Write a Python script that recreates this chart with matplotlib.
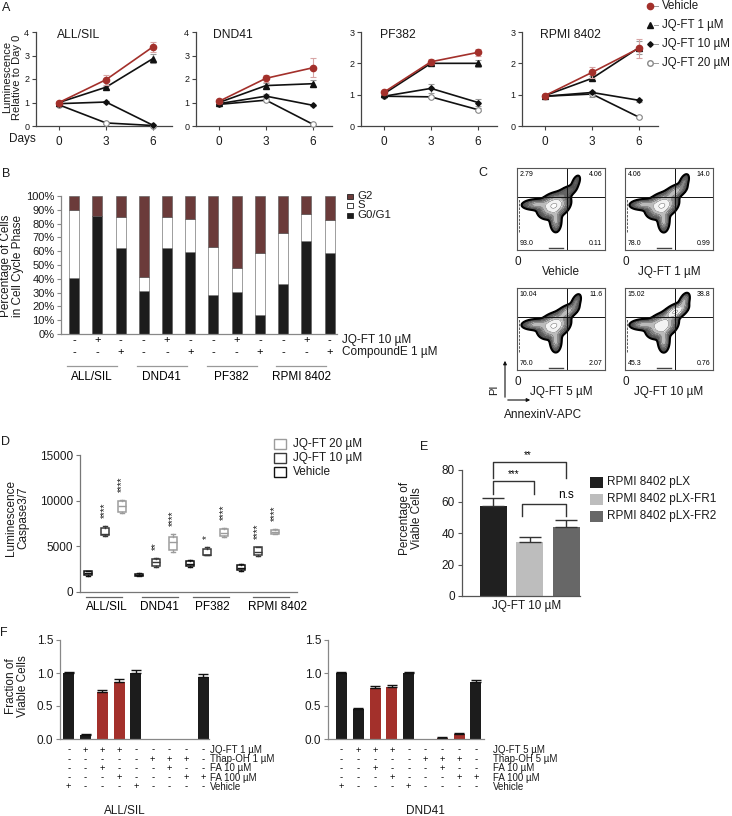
import numpy as np
import matplotlib
matplotlib.use('Agg')
import matplotlib.pyplot as plt
from matplotlib.transforms import blended_transform_factory as blend
from matplotlib.lines import Line2D
from matplotlib.patches import Rectangle, FancyArrowPatch
from matplotlib.colors import LinearSegmentedColormap

plt.rcParams['font.family'] = ['Liberation Sans', 'DejaVu Sans']
plt.rcParams['font.size'] = 8.5

# ---------------- DATA ----------------
# Panel A
days = [0, 3, 6]
a_lines = ['ALL/SIL', 'DND41', 'PF382', 'RPMI 8402']
a_series = ['Vehicle', 'JQ-FT 1 µM', 'JQ-FT 10 µM', 'JQ-FT 20 µM']
a_ymax = [4, 4, 3, 3]
a_vehicle = [[1.0, 1.97, 3.37], [1.05, 2.03, 2.48], [1.08, 2.05, 2.35], [0.97, 1.71, 2.48]]
a_vehicle_err = [[0.05, 0.22, 0.2], [0.05, 0.15, 0.4], [0.05, 0.08, 0.1], [0.05, 0.18, 0.3]]
a_jq1 = [[1.0, 1.65, 2.87], [1.0, 1.72, 1.8], [1.03, 2.0, 2.0], [0.97, 1.52, 2.5]]
a_jq1_err = [[0.03, 0.06, 0.2], [0.03, 0.12, 0.15], [0.03, 0.05, 0.12], [0.03, 0.08, 0.2]]
a_jq10 = [[0.95, 1.02, 0.03], [0.95, 1.27, 0.88], [0.95, 1.2, 0.75], [0.95, 1.07, 0.82]]
a_jq10_err = [[0.03, 0.04, 0.02], [0.03, 0.08, 0.03], [0.03, 0.15, 0.12], [0.03, 0.05, 0.04]]
a_jq20 = [[0.9, 0.13, 0.02], [0.92, 1.1, 0.07], [0.95, 0.93, 0.52], [0.95, 1.02, 0.28]]
a_jq20_err = [[0.02, 0.03, 0.01], [0.02, 0.05, 0.02], [0.02, 0.03, 0.05], [0.02, 0.08, 0.03]]

# Panel B
b_groups = ['ALL/SIL', 'DND41', 'PF382', 'RPMI 8402']
b_g0g1 = [40.7, 85.3, 62.0, 31.3, 62.0, 59.3, 28.2, 30.6, 13.5, 36.0, 67.5, 58.8]
b_s = [49.3, 0.0, 23.0, 10.1, 23.0, 23.7, 34.5, 16.9, 45.3, 37.3, 19.2, 23.8]
b_g2 = [10.0, 14.7, 15.0, 58.6, 15.0, 17.0, 37.3, 52.5, 41.2, 26.7, 13.3, 17.4]
b_jq = ['-', '+', '-'] * 4
b_ce = ['-', '-', '+'] * 4
b_phase = ['G2', 'S', 'G0/G1']

# Panel C
c_titles = ['Vehicle', 'JQ-FT 1 µM', 'JQ-FT 5 µM', 'JQ-FT 10 µM']
c_quadrants = [['2.79', '4.06', '93.0', '0.11'],
               ['4.06', '14.0', '78.0', '0.99'],
               ['10.04', '11.6', '76.0', '2.07'],
               ['15.02', '38.8', '45.3', '0.76']]   # UL, UR, LL, LR
c_tail = [0.12, 0.35, 0.35, 0.85]

# Panel D
d_groups = ['ALL/SIL', 'DND41', 'PF382', 'RPMI 8402']
d_conditions = ['Vehicle', 'JQ-FT 10 µM', 'JQ-FT 20 µM']
d_med = [[2080, 6400, 9400], [1900, 3250, 5500], [3100, 4100, 6500], [2650, 4400, 6600]]
d_q1 = [[1820, 6200, 8800], [1750, 2900, 4600], [2800, 4000, 6100], [2400, 4000, 6400]]
d_q3 = [[2300, 7000, 10000], [2000, 3600, 6000], [3400, 4750, 6900], [3000, 4900, 6800]]
d_lo = [[1780, 6100, 8700], [1700, 2700, 4400], [2750, 4000, 6000], [2300, 3950, 6300]]
d_hi = [[2350, 7200, 10050], [2050, 3700, 6300], [3500, 4950, 7000], [3050, 4950, 6900]]
d_stars = [['', '****', '****'], ['', '**', '****'], ['', '*', '****'], ['', '****', '****']]

# Panel E
e_labels = ['RPMI 8402 pLX', 'RPMI 8402 pLX-FR1', 'RPMI 8402 pLX-FR2']
e_values = [57, 34, 44]
e_err = [5.5, 3.5, 4.0]

# Panel F
f_left_values = [1.0, 0.06, 0.71, 0.86, 1.0, 0.004, 0.0, 0.004, 0.94]
f_left_err = [0.02, 0.02, 0.03, 0.05, 0.04, 0.0, 0.0, 0.0, 0.05]
f_right_values = [1.0, 0.45, 0.77, 0.79, 1.0, 0.0, 0.02, 0.08, 0.86]
f_right_err = [0.02, 0.015, 0.04, 0.03, 0.015, 0.0, 0.005, 0.01, 0.03]
f_left_rows = ['JQ-FT 1 µM', 'Thap-OH 1 µM', 'FA 10 µM', 'FA 100 µM', 'Vehicle']
f_right_rows = ['JQ-FT 5 µM', 'Thap-OH 5 µM', 'FA 10 µM', 'FA 100 µM', 'Vehicle']
f_signs = [['-', '+', '+', '+', '-', '-', '-', '-', '-'],
           ['-', '-', '-', '-', '-', '+', '+', '+', '-'],
           ['-', '-', '+', '-', '-', '-', '+', '-', '-'],
           ['-', '-', '-', '+', '-', '-', '-', '+', '+'],
           ['+', '-', '-', '-', '+', '-', '-', '-', '-']]
f_fa_rescue = [False, False, True, True, False, False, True, True, False]

# ---------------- LAYOUT HELPERS ----------------
W, H = 732, 816
fig = plt.figure(figsize=(W / 100, H / 100), dpi=100)


def rect(x, y, w, h):
    return [x / W, 1 - (y + h) / H, w / W, h / H]


def fx(x):
    return x / W


def fy(y):
    return 1 - y / H


def ftext(x, y, s, **kw):
    kw.setdefault('ha', 'center')
    kw.setdefault('va', 'center')
    kw.setdefault('fontsize', 8.5)
    kw.setdefault('color', '#1a1a1a')
    return fig.text(fx(x), fy(y), s, **kw)


def fsquare(x, yc, w, h, fc, ec='none', lw=0.8):
    fig.add_artist(Rectangle((fx(x), fy(yc + h / 2)), w / W, h / H, transform=fig.transFigure,
                             facecolor=fc, edgecolor=ec, linewidth=lw))


def fline(xs, ys, **kw):
    fig.add_artist(Line2D([fx(x) for x in xs], [fy(y) for y in ys], transform=fig.transFigure, **kw))


def style(ax, color='#444444'):
    for s in ['top', 'right']:
        ax.spines[s].set_visible(False)
    for s in ['left', 'bottom']:
        ax.spines[s].set_color(color)
        ax.spines[s].set_linewidth(0.9)
    ax.tick_params(color=color, labelcolor='#1a1a1a', length=3, width=0.8)


RED = '#a3302b'
BROWN = '#6b3b3a'
BLACK = '#1c1c1c'

# ---------------- PANEL A ----------------
ftext(6, 8, 'A', fontsize=9)
ftext(12, 77, 'Luminescence\nRelative to Day 0', rotation=90, linespacing=1.0, fontsize=8)
ftext(22, 139, 'Days')
a_left = [35.5, 195.5, 360.5, 521.5]
a_title_x = [57, 213, 380, 540]
series = [
    (a_jq20, a_jq20_err, dict(color='#111111', marker='o', ms=4, mfc='white', mec='#888888', mew=0.8), '#9a9a9a'),
    (a_jq10, a_jq10_err, dict(color='#111111', marker='D', ms=2.8, mfc='#111111', mec='#111111'), '#9a9a9a'),
    (a_jq1, a_jq1_err, dict(color='#111111', marker='^', ms=4, mfc='#111111', mec='#111111'), '#9a9a9a'),
    (a_vehicle, a_vehicle_err, dict(color=RED, marker='o', ms=4.5, mfc=RED, mec=RED), '#d8a5a5'),
]
for k in range(4):
    ax = fig.add_axes(rect(a_left[k], 32, 136.3, 94))
    for z, (vals, errs, kw, ec) in enumerate(series):
        ax.errorbar(days, vals[k], yerr=errs[k], ecolor=ec, elinewidth=0.8, capsize=2.3, capthick=0.8,
                    lw=1.2, clip_on=False, zorder=3 + z, **kw)
    ax.set_xlim(-1.5, 7.2)
    ax.set_ylim(0, a_ymax[k])
    ax.set_xticks(days)
    ax.set_yticks(range(0, a_ymax[k] + 1))
    style(ax)
    ax.tick_params(axis='y', labelsize=6.5, pad=1.5)
    ax.tick_params(axis='x', labelsize=8.5, pad=4)
    ftext(a_title_x[k], 35, a_lines[k], ha='left', fontsize=8.7)

# legend A
leg_y = [6, 25, 44, 63]
for (vals, errs, kw, ec), y in zip(series[::-1], leg_y):
    fline([654, 658], [y, y], color='#999999', lw=0.7)
    fig.add_artist(Line2D([fx(650)], [fy(y)], transform=fig.transFigure, linestyle='none',
                          marker=kw['marker'], markersize=kw['ms'], markerfacecolor=kw['mfc'],
                          markeredgecolor=kw['mec']))
for name, y in zip(a_series, leg_y):
    ftext(662, y, name, ha='left', fontsize=8.3)

# ---------------- PANEL B ----------------
ftext(6, 174, 'B', fontsize=9)
ftext(12, 266, 'Percentage of Cells\nin Cell Cycle Phase', rotation=90, linespacing=1.0)
axb = fig.add_axes(rect(61, 196, 275.7, 138))
xb = np.arange(len(b_g0g1))
bottom_s = np.array(b_g0g1)
bottom_g2 = bottom_s + np.array(b_s)
axb.bar(xb, b_g0g1, width=0.43, color=BLACK, edgecolor='#555555', lw=0.4)
axb.bar(xb, b_s, bottom=bottom_s, width=0.43, color='white', edgecolor='#555555', lw=0.4)
axb.bar(xb, b_g2, bottom=bottom_g2, width=0.43, color=BROWN, edgecolor='#555555', lw=0.4)
axb.set_xlim(-0.56, 11.3)
axb.set_ylim(0, 100)
axb.set_yticks(range(0, 101, 10))
axb.set_yticklabels([f'{v}%' for v in range(0, 101, 10)])
axb.set_xticks([])
style(axb, '#888888')
axb.tick_params(axis='y', labelsize=8, pad=1.5)
tb = blend(axb.transData, fig.transFigure)
for i in xb:
    axb.text(i, fy(340), b_jq[i], transform=tb, ha='center', va='center', fontsize=8)
    axb.text(i, fy(352), b_ce[i], transform=tb, ha='center', va='center', fontsize=8)
ftext(342, 340, 'JQ-FT 10 µM', ha='left')
ftext(342, 352, 'CompoundE 1 µM', ha='left')
for g, name in enumerate(b_groups):
    axb.plot([3 * g - 0.29, 3 * g + 1.86], [fy(366)] * 2, transform=tb, color='#999999', lw=0.9, clip_on=False)
    axb.text(3 * g + 0.78, fy(377), name, transform=tb, ha='center', va='center', fontsize=8.5)
b_colors = [BROWN, 'white', BLACK]
for name, col, y in zip(b_phase, b_colors, [196, 205.5, 215]):
    fsquare(347, y, 6, 5, col, ec='#222222', lw=0.6)
    ftext(357, y, name, ha='left', fontsize=8.2)

# ---------------- PANEL C ----------------
ftext(483, 173, 'C', fontsize=9)
gx, gy = np.meshgrid(np.linspace(0, 1, 260), np.linspace(0, 1, 240))


def blob(cx, cy, sx, sy, rho, amp):
    dx = (gx - cx) / sx
    dy = (gy - cy) / sy
    return amp * np.exp(-(dx * dx - 2 * rho * dx * dy + dy * dy) / (2 * (1 - rho * rho)))


flow_cmap = LinearSegmentedColormap.from_list('flow', ['#404040', '#9a9a9a', '#dcdcdc', '#fafafa', '#ffffff'])
c_rects = [(517, 168), (625, 168), (517, 288), (625, 288)]
for k in range(4):
    x0, y0 = c_rects[k]
    ax = fig.add_axes(rect(x0, y0, 88, 82))
    t = c_tail[k]
    main_amp = 1.0 - 0.3 * t
    Z = (blob(0.42, 0.54, 0.075, 0.065, 0.3, main_amp)
         + blob(0.22, 0.555, 0.075, 0.03, 0.1, 0.35)
         + blob(0.44, 0.36, 0.03, 0.065, 0.0, 0.35)
         + blob(0.57, 0.71, 0.06, 0.045, 0.55, t)
         + blob(0.67, 0.83, 0.03, 0.05, 0.5, 0.3 * t + 0.06))
    lev = Z.max() * np.geomspace(0.03, 0.9, 7)
    ax.contourf(gx, gy, Z, levels=list(lev) + [Z.max() * 1.01], cmap=flow_cmap)
    ax.contour(gx, gy, Z, levels=lev[1:], colors='#4a4a4a', linewidths=0.3)
    ax.contour(gx, gy, Z, levels=[lev[0]], colors='#000000', linewidths=1.5)
    # sparse events on the axes
    ax.plot([0.02, 0.02], [0.22, 0.62], color='#444444', lw=0.6, dashes=(3, 1.5))
    ax.plot([0.36, 0.52], [0.025, 0.025], color='#444444', lw=1.0)
    ax.axvline(0.57, color='#111111', lw=0.7)
    ax.axhline(0.65, color='#111111', lw=0.7)
    ax.set_xlim(0, 1)
    ax.set_ylim(0, 1)
    ax.set_xticks([])
    ax.set_yticks([])
    for s in ax.spines.values():
        s.set_color('#555555')
        s.set_linewidth(0.8)
    q = c_quadrants[k]
    ax.text(0.03, 0.96, q[0], ha='left', va='top', fontsize=5, transform=ax.transAxes)
    ax.text(0.97, 0.96, q[1], ha='right', va='top', fontsize=5, transform=ax.transAxes)
    ax.text(0.03, 0.04, q[2], ha='left', va='bottom', fontsize=5, transform=ax.transAxes)
    ax.text(0.97, 0.04, q[3], ha='right', va='bottom', fontsize=5, transform=ax.transAxes)
    ftext(x0 + 1, y0 + 94, '0', fontsize=8.5)
    ftext(x0 + 44, y0 + 104, c_titles[k], fontsize=8.5)
# axis arrows
fig.add_artist(FancyArrowPatch((fx(505), fy(400)), (fx(505), fy(358)), transform=fig.transFigure,
                               arrowstyle='-|>', mutation_scale=5, lw=0.8, color='#111111'))
fig.add_artist(FancyArrowPatch((fx(505), fy(400)), (fx(533), fy(400)), transform=fig.transFigure,
                               arrowstyle='-|>', mutation_scale=5, lw=0.8, color='#111111'))
ftext(494, 390, 'PI', rotation=90, fontsize=8)
ftext(543, 415, 'AnnexinV-APC')

# ---------------- PANEL D ----------------
ftext(5, 442, 'D', fontsize=9)
ftext(17, 518, 'Luminescence\nCaspase3/7', rotation=90, linespacing=1.0)
axd = fig.add_axes(rect(80, 455, 217, 137))
d_box_colors = ['#111111', '#3a3a3a', '#9c9c9c']
stats, pos, cols = [], [], []
for g in range(4):
    for c in range(3):
        stats.append(dict(med=d_med[g][c], q1=d_q1[g][c], q3=d_q3[g][c],
                          whislo=d_lo[g][c], whishi=d_hi[g][c], fliers=[]))
        pos.append(3 * g + c)
        cols.append(d_box_colors[c])
bp = axd.bxp(stats, positions=pos, widths=0.5, patch_artist=True, showfliers=False, manage_ticks=False)
for i, col in enumerate(cols):
    bp['boxes'][i].set(facecolor='white', edgecolor=col, linewidth=1.1)
    bp['medians'][i].set(color=col, linewidth=1.0)
    for j in (2 * i, 2 * i + 1):
        bp['whiskers'][j].set(color=col, linewidth=1.0)
        bp['caps'][j].set(color=col, linewidth=1.0)
for g in range(4):
    for c in range(3):
        if d_stars[g][c]:
            axd.text(3 * g + c, d_hi[g][c] + 900, d_stars[g][c], rotation=90, ha='center', va='bottom',
                     fontsize=7, color='#222222')
axd.set_xlim(-0.47, 12.3)
axd.set_ylim(0, 15000)
axd.set_yticks([0, 5000, 10000, 15000])
axd.set_xticks([])
style(axd, '#777777')
axd.tick_params(axis='y', labelsize=8.5, pad=2)
td = blend(axd.transData, fig.transFigure)
d_line_spans = [(-0.12, 2.0), (3.18, 5.29), (6.18, 8.29), (9.7, 11.8)]
d_label_x = [1.12, 4.18, 7.29, 11.18]
for g, name in enumerate(d_groups):
    axd.plot(d_line_spans[g], [fy(597)] * 2, transform=td, color='#666666', lw=0.9, clip_on=False)
    axd.text(d_label_x[g], fy(607), name, transform=td, ha='center', va='center', fontsize=8.5)
for name, col, y in zip(d_conditions[::-1], d_box_colors[::-1], [444, 457.5, 472]):
    fsquare(274, y, 12, 10, 'white', ec=col, lw=1.0)
    ftext(293, y, name, ha='left')

# ---------------- PANEL E ----------------
ftext(424, 447, 'E', fontsize=9)
ftext(411, 518, 'Percentage of\nViable Cells', rotation=90, linespacing=1.0)
axe = fig.add_axes(rect(462, 470, 118, 126))
e_colors = ['#202020', '#bdbdbd', '#676767']
axe.bar(range(3), e_values, width=0.74, color=e_colors,
        yerr=[[0, 0, 0], e_err], error_kw=dict(ecolor='#333333', elinewidth=1.0, capsize=8, capthick=1.0))
axe.set_xlim(-0.86, 2.37)
axe.set_ylim(0, 80)
axe.set_yticks(range(0, 81, 20))
axe.set_xticks([])
style(axe, '#555555')
axe.tick_params(axis='y', labelsize=8.5, pad=2)
bk = dict(color='#333333', lw=1.0, clip_on=False)
axe.plot([0, 0, 2, 2], [75, 85, 85, 75], **bk)
axe.plot([0, 0, 1.12, 1.12], [64.5, 73, 73, 64.5], **bk)
axe.plot([0.78, 0.78, 2.0, 2.0], [50.5, 58.4, 58.4, 50.5], **bk)
axe.text(0.95, 86.5, '**', ha='center', va='bottom', fontsize=7)
axe.text(0.56, 74.5, '***', ha='center', va='bottom', fontsize=7)
axe.text(2.0, 60, 'n.s', ha='center', va='bottom', fontsize=8.5)
ftext(527, 606, 'JQ-FT 10 µM')
for name, col, y in zip(e_labels, e_colors, [482, 499, 516]):
    fsquare(590, y, 13, 11, col)
    ftext(607, y, name, ha='left')

# ---------------- PANEL F ----------------
ftext(4, 633, 'F', fontsize=9)
ftext(17, 686, 'Fraction of\nViable Cells', rotation=90, linespacing=1.0)
f_row_y = [750, 759.2, 768.4, 777.6, 786.8]
for side, (x0, w, xlim, vals, errs, rows, lab_x, name, name_x) in enumerate([
        (60, 149, (-0.52, 8.35), f_left_values, f_left_err, f_left_rows, 210, 'ALL/SIL', 125),
        (328, 156, (-0.8, 8.48), f_right_values, f_right_err, f_right_rows, 493, 'DND41', 425)]):
    ax = fig.add_axes(rect(x0, 640, w, 99))
    cols = [RED if r else BLACK for r in f_fa_rescue]
    xs = np.arange(len(vals))
    ax.bar(xs, vals, width=0.65, color=cols)
    for xi, v, e in zip(xs, vals, errs):
        if e > 0:
            ax.errorbar(xi, v, yerr=[[0], [e]], ecolor='#111111', elinewidth=1.0, capsize=3.5, capthick=1.0)
    ax.set_xlim(*xlim)
    ax.set_ylim(0, 1.5)
    ax.set_yticks([0, 0.5, 1.0, 1.5])
    ax.set_yticklabels(['0.0', '0.5', '1.0', '1.5'])
    ax.set_xticks([])
    style(ax, '#888888')
    ax.tick_params(axis='y', labelsize=8.5, pad=2)
    tf = blend(ax.transData, fig.transFigure)
    for r, row in enumerate(f_signs):
        for xi, s in zip(xs, row):
            ax.text(xi, fy(f_row_y[r]), s, transform=tf, ha='center', va='center', fontsize=6.8)
        ftext(lab_x, f_row_y[r], rows[r], ha='left', fontsize=7.0)
    ftext(name_x, 811, name)

fig.savefig('out.png', dpi=100)
